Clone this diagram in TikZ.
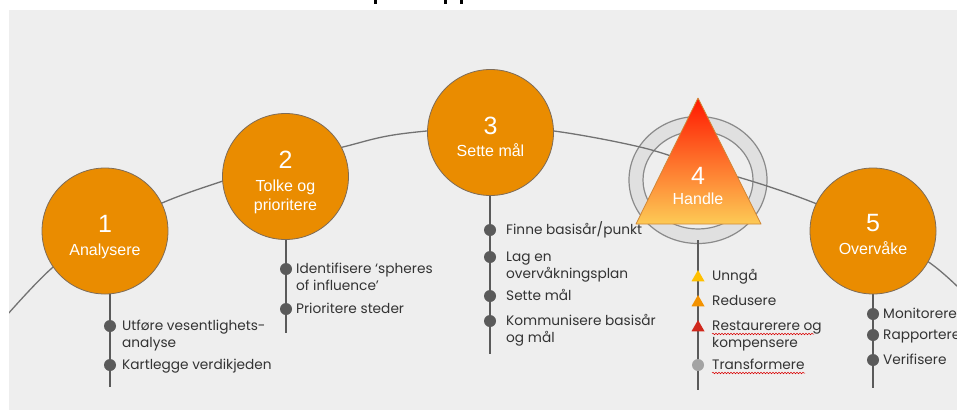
\documentclass[tikz,border=0pt]{standalone}
\usepackage{fontspec}
\setmainfont{Liberation Sans}
\newfontfamily\listfont{Poppins}
\usetikzlibrary{shapes.geometric,decorations.pathmorphing}
\definecolor{bg}{HTML}{EEEEEE}
\definecolor{org}{HTML}{EA8C00}
\definecolor{rim}{HTML}{7E6C58}
\definecolor{arcc}{HTML}{727272}
\definecolor{stemc}{HTML}{5A5A5A}
\definecolor{txt}{HTML}{333333}
\definecolor{ringf}{HTML}{E0E0E0}
\definecolor{ringl}{HTML}{8A8A8A}
\definecolor{tyel}{HTML}{FFC000}
\definecolor{torg}{HTML}{F39200}
\definecolor{tred}{HTML}{D0281C}
\definecolor{tgry}{HTML}{A3A3A3}
\definecolor{gtop}{HTML}{FF1800}
\definecolor{gmid}{HTML}{F28E22}
\definecolor{gbot}{HTML}{FDCA55}
\definecolor{triline}{HTML}{D08838}
\begin{document}
\begin{tikzpicture}[x=1pt,y=-1pt,
  stepcircle/.style={circle, fill=org, draw=rim, line width=0.8pt, minimum size=126pt, inner sep=0pt},
  numtext/.style={text=white, font=\fontsize{25}{28}\selectfont, anchor=base, inner sep=0pt},
  labtext/.style={text=white, font=\fontsize{16}{19}\selectfont, anchor=base, align=center, inner sep=0pt},
  arcline/.style={draw=arcc, line width=1.3pt},
  stemline/.style={draw=stemc, line width=2pt},
  bullet/.style={circle, fill=#1, minimum size=12pt, inner sep=0pt},
  bullet/.default=stemc,
  trimark/.style={regular polygon, regular polygon sides=3, fill=#1, minimum size=15pt, inner sep=0pt},
  item/.style={font=\listfont\fontsize{13.7}{17}\selectfont, text=txt, anchor=base west, align=left, inner sep=0pt},
  squig/.style={draw=red!85!black, line width=0.5pt, decorate, decoration={snake, amplitude=0.8pt, segment length=3pt}}
]
\useasboundingbox (0,0) rectangle (957,410);
\fill[bg] (9,10) rectangle (957,410);
% cut-off title descenders
\fill[black] (374,0) rectangle (376.5,4);
\fill[black] (444,0) rectangle (446.5,4);
\fill[black] (460,0) rectangle (462.5,4);

% ring behind step 4
\path[fill=ringf, draw=ringl, line width=1.2pt, even odd rule]
  (698,180) ellipse [x radius=69, y radius=63.5]
  (698,180) ellipse [x radius=55, y radius=49];

% the arc
\begin{scope}
\clip (9,10) rectangle (957,410);
\draw[arcline] plot[smooth, tension=0.6] coordinates {(0,323) (52,268) (105,232) (162,203) (223,181) (285,162) (343,147) (400,134) (490,127) (554,131) (640,147) (698,165) (767,186) (817,204) (873,228) (930,263) (962,291)};
\end{scope}

% stems
\coordinate (e1) at (110,387);
\coordinate (e2) at (286,333);
\coordinate (e3) at (490,354);
\coordinate (e4) at (698,390);
\coordinate (e5) at (873,388);
\draw[stemline] (110,280) -- (e1);
\draw[stemline] (286,230) -- (e2);
\draw[stemline] (490,190) -- (e3);
\draw[stemline] (698,240) -- (e4);
\draw[stemline] (873,290) -- (e5);

% triangle of step 4
\shade[top color=gtop, middle color=gmid, bottom color=gbot] (698,98) -- (761,224) -- (636,224) -- cycle;
\draw[triline, line width=0.8pt, line join=round] (698,98) -- (761,224) -- (636,224) -- cycle;

% circles
\node[stepcircle] (c1) at (105,231) {};
\node[stepcircle] (c2) at (285.5,176.5) {};
\node[stepcircle] (c3) at (490.5,132.5) {};
\node[stepcircle] (c5) at (873,231) {};

\node[numtext] (n1) at (105,232) {1};
\node[labtext] (l1) at (105,255) {Analysere};
\node[numtext] (n2) at (285.5,168) {2};
\node[labtext] (l2) at (285.5,210) {Tolke og\\prioritere};
\node[numtext] (n3) at (490.5,134) {3};
\node[labtext] (l3) at (490.5,156) {Sette mål};
\node[numtext] (n4) at (698,184) {4};
\node[labtext] (l4) at (698,204) {Handle};
\node[numtext] (n5) at (873,231) {5};
\node[labtext] (l5) at (873,254) {Overvåke};

% step 1 items (two-line nodes are placed by their last baseline)
\node[bullet] (d11) at (110,326) {};
\node[item] (t11) at (122,347.5) {Utføre vesentlighets-\\analyse};
\node[bullet] (d12) at (110,365) {};
\node[item] (t12) at (122,369.5) {Kartlegge verdikjeden};

% step 2 items
\node[bullet] (d21) at (286,269) {};
\node[item] (t21) at (296,290.5) {Identifisere ‘spheres\\of influence’};
\node[bullet] (d22) at (286,309) {};
\node[item] (t22) at (296,313.5) {Prioritere steder};

% step 3 items
\node[bullet] (d31) at (490,230) {};
\node[item] (t31) at (506,234.5) {Finne basisår/punkt};
\node[bullet] (d32) at (490,257) {};
\node[item] (t32) at (506,278.5) {Lag en\\overvåkningsplan};
\node[bullet] (d33) at (490,296) {};
\node[item] (t33) at (506,300.5) {Sette mål};
\node[bullet] (d34) at (490,321) {};
\node[item] (t34) at (506,342.5) {Kommunisere basisår\\og mål};

% step 4 items
\node[trimark=tyel] (d41) at (698,277.5) {};
\node[item] (t41) at (712,280.5) {Unngå};
\node[trimark=torg] (d42) at (698,302.5) {};
\node[item] (t42) at (712,305.5) {Redusere};
\node[trimark=tred] (d43) at (698,327.5) {};
\node[item] (t43) at (712,347.5) {Restaurerere og\\kompensere};
\node[bullet=tgry] (d44) at (698,365) {};
\node[item] (t44) at (712,369.5) {Transformere};
\draw[squig] (712,334) -- (814,334);
\draw[squig] (712,373) -- (805,373);

% step 5 items
\node[bullet] (d51) at (873,314) {};
\node[item] (t51) at (883,318.5) {Monitorere};
\node[bullet] (d52) at (873,335) {};
\node[item] (t52) at (883,339.5) {Rapportere};
\node[bullet] (d53) at (873,360) {};
\node[item] (t53) at (883,364.5) {Verifisere};
\end{tikzpicture}
\end{document}
